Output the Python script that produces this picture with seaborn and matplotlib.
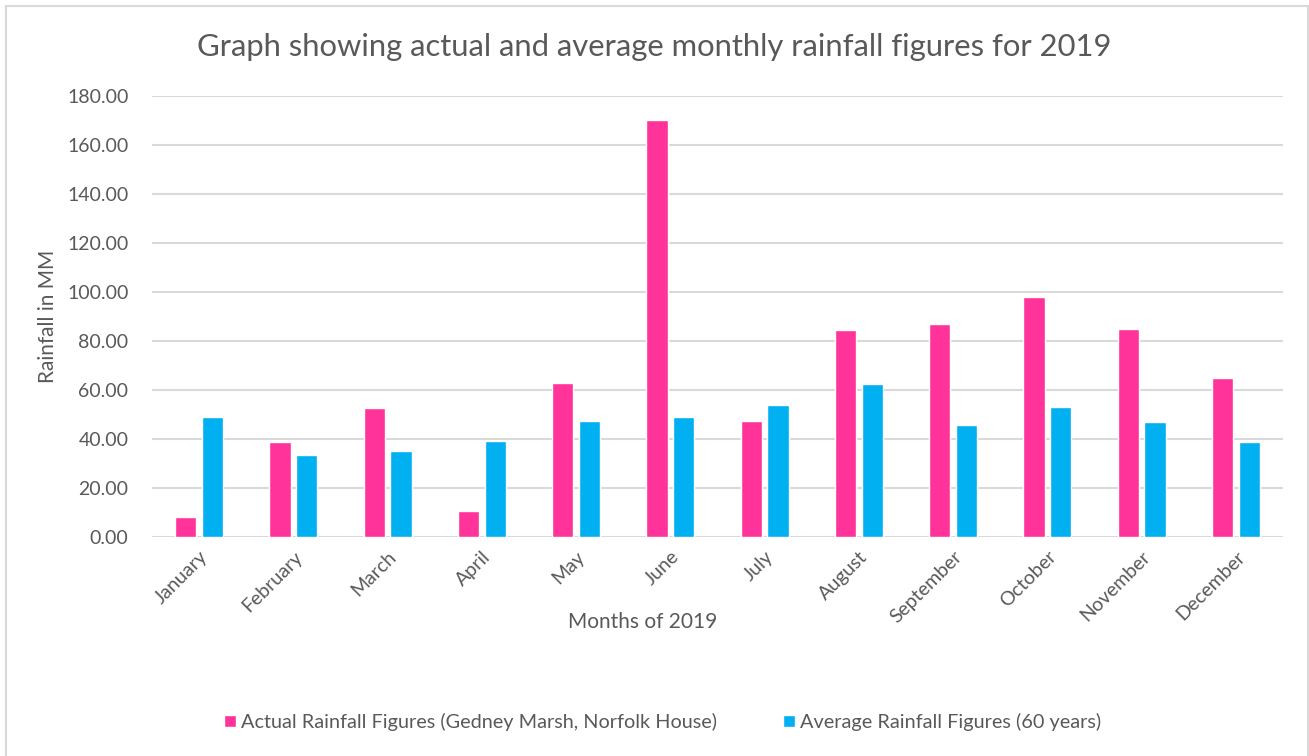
import matplotlib
matplotlib.use("Agg")
import matplotlib.pyplot as plt
import seaborn as sns
import pandas as pd
from matplotlib.patches import Rectangle
from matplotlib.ticker import FormatStrFormatter

months = ["January", "February", "March", "April", "May", "June", "July",
          "August", "September", "October", "November", "December"]
actual = [8.2, 38.8, 52.6, 10.5, 63.0, 170.0, 47.4, 84.3, 87.0, 97.8, 84.7, 65.0]
average = [48.9, 33.3, 35.1, 39.3, 47.5, 49.1, 53.7, 62.4, 45.9, 53.0, 47.1, 38.8]
series_names = ["Actual Rainfall Figures (Gedney Marsh, Norfolk House)",
                "Average Rainfall Figures (60 years)"]
yticks = [0, 20, 40, 60, 80, 100, 120, 140, 160, 180]

df = pd.DataFrame({
    "Month": months * 2,
    "Rainfall": actual + average,
    "Series": [series_names[0]] * len(months) + [series_names[1]] * len(months),
})

sns.set_theme(style="white")
plt.rcParams["font.family"] = ["Lato", "DejaVu Sans"]
txt = "#595959"
grid = "#D9D9D9"

fig = plt.figure(figsize=(13.09, 7.56), dpi=100)
ax = fig.add_axes([152 / 1309, 1 - 537 / 756, (1283 - 152) / 1309, (537 - 96) / 756])

sns.barplot(data=df, x="Month", y="Rainfall", hue="Series", order=months,
            hue_order=series_names, palette=["#FF3399", "#00B0F0"],
            width=0.566, gap=0.2, ax=ax, legend=True, errorbar=None,
            saturation=1)

ax.set_ylim(0, 180)
ax.set_xlim(-0.5, 11.5)
ax.set_yticks(yticks)
ax.yaxis.set_major_formatter(FormatStrFormatter("%.2f"))
ax.grid(axis="y", color=grid, linewidth=1.5)
ax.set_axisbelow(True)
for s in ax.spines.values():
    s.set_visible(False)
ax.tick_params(axis="both", length=0, colors=txt, labelsize=14)
ax.tick_params(axis="y", pad=17)
plt.setp(ax.get_xticklabels(), rotation=45, ha="right", rotation_mode="anchor")
ax.tick_params(axis="x", pad=8)

ax.set_xlabel("Months of 2019", color=txt, fontsize=15)
ax.xaxis.set_label_coords((643 - 152) / 1131, -75 / 441)
ax.set_ylabel("Rainfall in MM", color=txt, fontsize=15)
ax.yaxis.set_label_coords((58 - 152) / 1131, 0.5)

fig.text(0.5, 1 - 47 / 756, "Graph showing actual and average monthly rainfall figures for 2019",
         ha="center", va="center", color=txt, fontsize=22.3)

handles, labels = ax.get_legend_handles_labels()
ax.get_legend().remove()
fig.legend(handles, labels, loc="center", bbox_to_anchor=(0.5 + 8 / 1309, 1 - 722 / 756),
           ncol=2, frameon=False, fontsize=14.3, handlelength=0.6, handleheight=0.6,
           handletextpad=0.25, columnspacing=3.3, labelcolor=txt)

fig.patches.append(Rectangle((6 / 1309, -0.01), (1308 - 6) / 1309, 1 - 6 / 756 + 0.01,
                             transform=fig.transFigure, fill=False,
                             edgecolor="#D9D9D9", linewidth=1.5, clip_on=False))

fig.savefig("out.png", dpi=100)
